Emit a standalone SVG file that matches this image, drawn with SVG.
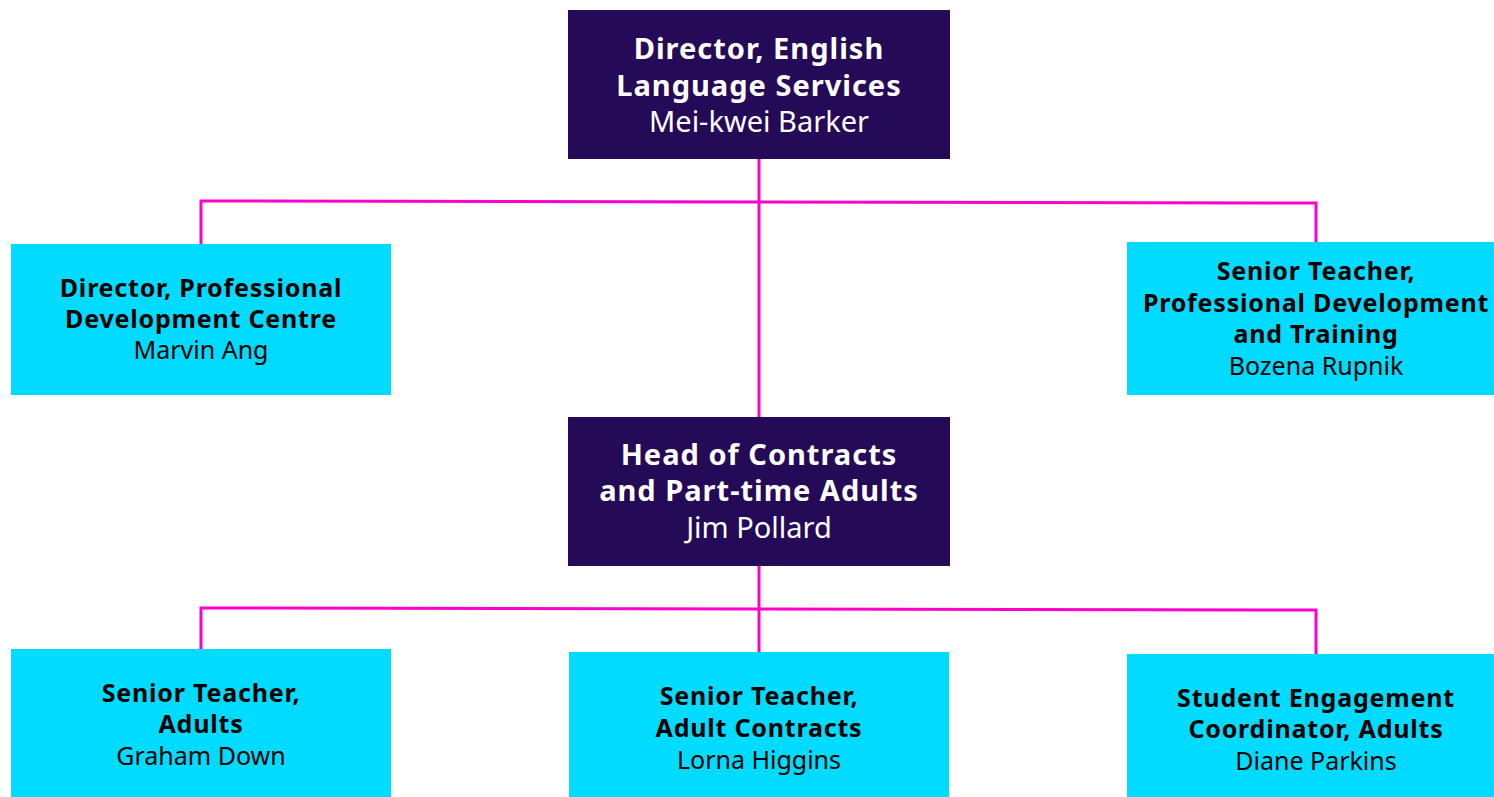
<svg xmlns="http://www.w3.org/2000/svg" width="1494" height="797" viewBox="0 0 1494 797">
<style>
.dark{fill:#250a58}
.light{fill:#00dbff}
.conn{stroke:#ff00cc;stroke-width:3;fill:none}
text{font-family:"Noto Sans","Liberation Sans",sans-serif;text-anchor:middle}
.tw{fill:#ffffff}
.tb{fill:#000000}
.b1{font-weight:bold;font-size:29px;letter-spacing:1px}
.r1{font-size:29px}
.b2{font-weight:bold;font-size:25px;letter-spacing:0.8px}
.r2{font-size:25px}
</style>
<rect width="1494" height="797" fill="#ffffff"/>
<g id="connectors">
<path class="conn" d="M759,159 V417"/>
<path class="conn" d="M201,244 V201 L1316,203 V242"/>
<path class="conn" d="M759,566 V652"/>
<path class="conn" d="M201,649 V608 L1316,610 V654"/>
</g>
<g id="director">
<rect class="dark" x="568" y="10" width="382" height="149"/>
<text class="tw b1" x="759" y="59">Director, English</text>
<text class="tw b1" x="759" y="96">Language Services</text>
<text class="tw r1" x="759" y="132">Mei-kwei Barker</text>
</g>
<g id="pdc">
<rect class="light" x="11" y="244" width="380" height="151"/>
<text class="tb b2" x="201" y="297">Director, Professional</text>
<text class="tb b2" x="201" y="328">Development Centre</text>
<text class="tb r2" x="201" y="359">Marvin Ang</text>
</g>
<g id="stpd">
<rect class="light" x="1127" y="242" width="367" height="153"/>
<text class="tb b2" x="1316" y="280">Senior Teacher,</text>
<text class="tb b2" x="1316" y="312">Professional Development</text>
<text class="tb b2" x="1316" y="343">and Training</text>
<text class="tb r2" x="1316" y="375">Bozena Rupnik</text>
</g>
<g id="head">
<rect class="dark" x="568" y="417" width="382" height="149"/>
<text class="tw b1" x="759" y="465">Head of Contracts</text>
<text class="tw b1" x="759" y="501">and Part-time Adults</text>
<text class="tw r1" x="759" y="538">Jim Pollard</text>
</g>
<g id="sta">
<rect class="light" x="11" y="649" width="380" height="148"/>
<text class="tb b2" x="201" y="702">Senior Teacher,</text>
<text class="tb b2" x="201" y="733">Adults</text>
<text class="tb r2" x="201" y="765">Graham Down</text>
</g>
<g id="stac">
<rect class="light" x="569" y="652" width="380" height="145"/>
<text class="tb b2" x="759" y="705">Senior Teacher,</text>
<text class="tb b2" x="759" y="737">Adult Contracts</text>
<text class="tb r2" x="759" y="769">Lorna Higgins</text>
</g>
<g id="sec">
<rect class="light" x="1127" y="654" width="367" height="143"/>
<text class="tb b2" x="1316" y="707">Student Engagement</text>
<text class="tb b2" x="1316" y="738">Coordinator, Adults</text>
<text class="tb r2" x="1316" y="770">Diane Parkins</text>
</g>
</svg>
